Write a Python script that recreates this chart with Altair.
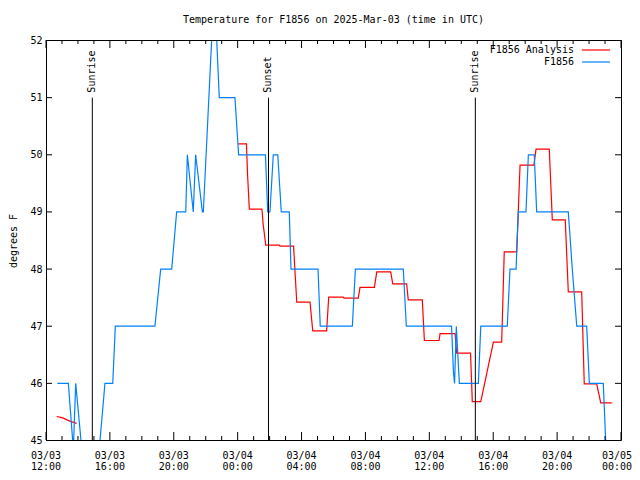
import altair as alt
import pandas as pd

# time axis: hours since 2025-03-03 12:00 UTC
obs_hours = [0.71, 1.40, 1.67, 1.73, 1.86, 2.19, 3.38, 3.69, 4.18, 4.34,
             6.82, 7.18, 7.87, 8.18, 8.75, 8.85, 9.22, 9.37, 9.79, 9.85,
             10.37, 10.69, 10.85, 11.83, 12.06, 13.74, 13.88, 14.02, 14.23, 14.51,
             14.73, 15.23, 15.34, 17.03, 17.17, 19.18, 19.37, 22.37, 22.56, 25.39,
             25.51, 25.58, 25.69, 25.88, 27.07, 27.22, 28.88, 29.05, 29.43, 29.57,
             30.05, 30.20, 30.57, 30.72, 32.70, 32.95, 33.23, 33.85, 34.02, 34.89,
             35.04]
obs_temp = [46, 46, 45, 45, 46, 45, 45, 46, 46, 47,
            47, 48, 48, 49, 49, 50, 49, 50, 49, 49,
            52, 52, 51, 51, 50, 50, 49, 49, 50, 50,
            49, 49, 48, 48, 47, 47, 48, 48, 47, 47,
            46.2, 46, 47, 46, 46, 47, 47, 48, 48, 49,
            49, 50, 50, 49, 49, 48, 47, 47, 46, 46,
            45]

ana_hours = [0.67, 1.00, 1.25, 1.50, 1.92,
             12.04, 12.55, 12.62, 12.73, 13.52, 13.59, 13.76, 14.61, 14.65, 15.50,
             15.70, 16.53, 16.70, 17.57, 17.70, 18.61, 18.66, 19.55, 19.66, 20.56,
             20.71, 21.58, 21.71, 22.58, 22.68, 23.56, 23.69, 24.61, 24.67, 25.61,
             25.71, 26.58, 26.69, 27.22, 28.01, 28.53, 28.69, 29.47, 29.68, 30.55,
             30.68, 31.51, 31.70, 32.51, 32.70, 33.54, 33.70, 34.48, 34.73, 35.42]
ana_temp = [45.42, 45.40, 45.37, 45.34, 45.30,
            50.19, 50.19, 49.65, 49.05, 49.05, 48.80, 48.42, 48.42, 48.40, 48.40,
            47.42, 47.42, 46.92, 46.92, 47.51, 47.51, 47.49, 47.49, 47.68, 47.68,
            47.95, 47.95, 47.74, 47.74, 47.46, 47.46, 46.75, 46.75, 46.87, 46.87,
            46.53, 46.53, 45.68, 45.68, 46.72, 46.72, 48.30, 48.30, 49.82, 49.82,
            50.10, 50.10, 48.86, 48.86, 47.60, 47.60, 45.99, 45.99, 45.66, 45.66]
ana_seg = [0] * 5 + [1] * 50

event_hours = [2.90, 13.93, 26.88]
event_labels = ["Sunrise", "Sunset", "Sunrise"]
event_top = [51, 51, 51]
event_bottom = [45, 45, 45]

tick_hours = [0, 4, 8, 12, 16, 20, 24, 28, 32, 36]
tick_dates = ["03/03", "03/03", "03/03", "03/04", "03/04", "03/04", "03/04", "03/04", "03/04", "03/05"]
tick_times = ["12:00", "16:00", "20:00", "00:00", "04:00", "08:00", "12:00", "16:00", "20:00", "00:00"]
minor_hours = [h for h in range(0, 37) if h % 4 != 0]
y_ticks = [45, 46, 47, 48, 49, 50, 51, 52]

legend_labels = ["F1856 Analysis", "F1856"]
legend_colors = ["#ff0000", "#0080ff"]
title_text = "Temperature for F1856 on 2025-Mar-03 (time in UTC)"

FONT = "DejaVu Sans Mono"
W, H = 575, 400

xs = alt.Scale(domain=[0, 36], nice=False, zero=False)
ys = alt.Scale(domain=[45, 52], nice=False, zero=False, range=[H + 0.5, 0.5])

obs = pd.DataFrame({"h": obs_hours, "t": obs_temp})
ana = pd.DataFrame({"h": ana_hours, "t": ana_temp, "seg": ana_seg})
ev = pd.DataFrame({"h": event_hours, "label": event_labels, "top": event_top, "bottom": event_bottom})
maj = pd.DataFrame({"h": tick_hours, "d": tick_dates, "tm": tick_times})
mnr = pd.DataFrame({"h": minor_hours})
yt = pd.DataFrame({"v": y_ticks})
one = pd.DataFrame({"a": [0]})

x_axis = alt.Axis(labels=False, grid=False, ticks=False, tickSize=0, domain=False, title=None)
y_axis = alt.Axis(values=y_ticks, grid=False, ticks=False, tickSize=0, domain=False,
                  labelFont=FONT, labelFontSize=10, labelColor="black", labelPadding=4,
                  labelFlush=False, title="degrees F", titleFont=FONT, titleFontSize=10,
                  titleFontWeight="normal", titleColor="black", titlePadding=11)


def X(field):
    return alt.X(field, scale=xs, axis=x_axis)


def Y(field):
    return alt.Y(field, scale=ys, axis=y_axis)


ana_line = alt.Chart(ana).mark_line(color="#ff0000", strokeWidth=1.2, clip=True).encode(
    x=X("h:Q"), y=Y("t:Q"), detail="seg:N")
obs_line = alt.Chart(obs).mark_line(color="#0080ff", strokeWidth=1.2, clip=True).encode(
    x=X("h:Q"), y=Y("t:Q"))

ev_rule = alt.Chart(ev).mark_rule(color="black", strokeWidth=1).encode(
    x=X("h:Q"), y=Y("top:Q"), y2="bottom:Q")
ev_text = alt.Chart(ev).mark_text(angle=270, align="left", baseline="middle", dx=5,
                                  font=FONT, fontSize=10, color="black").encode(
    x=X("h:Q"), y=Y("top:Q"), text="label:N")


def xticks(df, y0, y1):
    return alt.Chart(df).mark_rule(color="black", strokeWidth=1).encode(
        x=X("h:Q"), y=alt.value(y0), y2=alt.value(y1))


def yticks(x0, x1):
    return alt.Chart(yt).mark_rule(color="black", strokeWidth=1).encode(
        y=Y("v:Q"), x=alt.value(x0), x2=alt.value(x1))


tick_layers = [
    xticks(maj, H, H - 8), xticks(mnr, H, H - 4),
    xticks(maj, 0, 8), xticks(mnr, 0, 4),
    yticks(0, 6), yticks(W, W - 6),
]

# x tick labels (two lines); the last one nudged left so it stays on the page
main_lab = maj[maj["h"] < 36]
last_lab = maj[maj["h"] >= 36]
label_layers = []
for df, dx in ((main_lab, 0), (last_lab, -4)):
    for field, yy in (("d", H + 16), ("tm", H + 27)):
        label_layers.append(alt.Chart(df).mark_text(align="center", baseline="middle", dx=dx,
                                                    font=FONT, fontSize=10, color="black").encode(
            x=X("h:Q"), y=alt.value(yy), text=f"{field}:N"))

frame = alt.Chart(one).mark_rect(filled=False, stroke="black", strokeWidth=1).encode(
    x=alt.value(0.5), x2=alt.value(W + 0.5), y=alt.value(0.5), y2=alt.value(H + 0.5))

title_layer = alt.Chart(one).mark_text(align="center", baseline="alphabetic", font=FONT,
                                       fontSize=10, color="black", text=title_text).encode(
    x=alt.value(W / 2), y=alt.value(-17))

legend_layers = []
for i, (lab, col) in enumerate(zip(legend_labels, legend_colors)):
    yy = 10 + 12 * i
    legend_layers.append(alt.Chart(one).mark_text(align="right", baseline="middle", font=FONT,
                                                  fontSize=10, color="black", text=lab).encode(
        x=alt.value(528), y=alt.value(yy)))
    legend_layers.append(alt.Chart(one).mark_rule(color=col, strokeWidth=1.2).encode(
        x=alt.value(536), x2=alt.value(564), y=alt.value(yy)))

chart = alt.layer(
    ana_line, obs_line, ev_rule, ev_text, *tick_layers, *label_layers, frame, title_layer,
    *legend_layers
).properties(
    width=W, height=H,
    padding={"left": 38, "top": 32, "right": 11, "bottom": 31},
    autosize=alt.AutoSizeParams(type="none"),
).configure_view(strokeWidth=0).configure(background="white")

chart.save("out.html", embed_options={"renderer": "svg", "actions": False})
